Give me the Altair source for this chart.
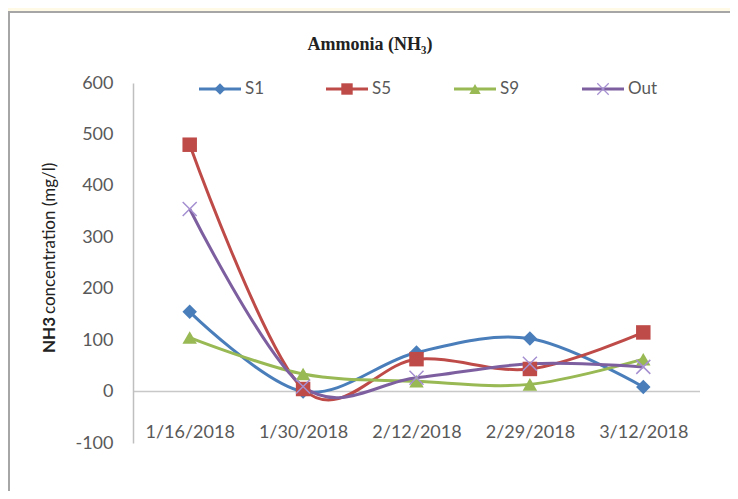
import altair as alt
import pandas as pd

# ---- data ----
dates = ["1/16/2018", "1/30/2018", "2/12/2018", "2/29/2018", "3/12/2018"]
series = ["S1", "S5", "S9", "Out"]
S1 = [155, 0, 76, 103, 9]
S5 = [480, 5, 63, 44, 115]
S9 = [105, 34, 20, 14, 63]
OUT = [355, 10, 27, 54, 48]
y_ticks = [-100, 0, 100, 200, 300, 400, 500, 600]

# ---- style ----
colors = ["#4A7EBB", "#BE4B48", "#98B954", "#7D5FA0"]
shapes = ["diamond", "square", "triangle-up"]
CROSS = "M-1,-1L1,1M-1,1L1,-1"
W, H = 567, 360
FONT = "Lato"
legend_x = [87, 214, 342, 470]

values = {"S1": S1, "S5": S5, "S9": S9, "Out": OUT}
rows = []
for s in series:
    for d, v in zip(dates, values[s]):
        rows.append({"date": d, "series": s, "value": v})
df = pd.DataFrame(rows)

leg = pd.DataFrame({"series": series, "lx": legend_x})
leg["tx"] = leg["lx"] + 25

one = pd.DataFrame({"a": [0]})

color = alt.Color("series:N", scale=alt.Scale(domain=series, range=colors), legend=None)
x = alt.X("date:O", sort=dates, scale=alt.Scale(domain=dates, padding=0.5),
          axis=alt.Axis(title=None, domain=False, ticks=False, labelAngle=0,
                        labelFont=FONT, labelFontSize=18, labelColor="#595959",
                        offset=-22, labelPadding=2, zindex=1))
y = alt.Y("value:Q", scale=alt.Scale(domain=[-100, 600], nice=False, zero=False),
          axis=alt.Axis(title=None, values=y_ticks, grid=False, ticks=False,
                        domainColor="#BFBFBF", domainWidth=1.5,
                        labelExpr="'' + datum.value",
                        labelFont=FONT, labelFontSize=18, labelColor="#595959",
                        labelPadding=20, zindex=1))

frame = alt.Chart(one).mark_rect(fill="white", stroke="#A6A6A6", strokeWidth=2).encode(
    x=alt.value(-124), x2=alt.value(700), y=alt.value(-71), y2=alt.value(520))

zero = alt.Chart(one).mark_rule(color="#C8C8C8", strokeWidth=1.5).encode(
    y=alt.datum(0), x=alt.value(0), x2=alt.value(W))

lines = alt.Chart(df).mark_line(interpolate="cardinal", strokeWidth=3).encode(
    x=x, y=y, color=color, detail="series:N")

pts = alt.Chart(df).transform_filter(alt.datum.series != "Out").mark_point(
    filled=True, opacity=1, size=210).encode(
    x=x, y=y, color=color,
    shape=alt.Shape("series:N", scale=alt.Scale(domain=series[:3], range=shapes), legend=None))

cross = alt.Chart(df).transform_filter(alt.datum.series == "Out").mark_point(
    shape=CROSS, filled=False, strokeWidth=1.5, size=196, opacity=1).encode(
    x=x, y=y, color=alt.value("#A58FD0"))

data_layer = alt.layer(lines, pts, cross)

# legend
leg_line = alt.Chart(leg).mark_point(shape="stroke", size=1764, strokeWidth=3, opacity=1,
                                     filled=False).encode(
    x=alt.X("lx:Q", scale=None, axis=None), y=alt.value(6), color=color)
leg_pts = alt.Chart(leg).transform_filter(alt.datum.series != "Out").mark_point(
    filled=True, opacity=1, size=130).encode(
    x=alt.X("lx:Q", scale=None, axis=None), y=alt.value(6), color=color,
    shape=alt.Shape("series:N", scale=alt.Scale(domain=series[:3], range=shapes), legend=None))
leg_cross = alt.Chart(leg).transform_filter(alt.datum.series == "Out").mark_point(
    shape=CROSS, filled=False, strokeWidth=1.2, size=130, opacity=1).encode(
    x=alt.X("lx:Q", scale=None, axis=None), y=alt.value(6), color=alt.value("#A58FD0"))
leg_text = alt.Chart(leg).mark_text(align="left", baseline="middle", font=FONT,
                                    fontSize=17, color="#595959").encode(
    x=alt.X("tx:Q", scale=None, axis=None), y=alt.value(6), text="series:N")

title = alt.Chart(one).mark_text(text="Ammonia (NH₃)", font="Liberation Serif",
                                 fontWeight="bold", fontSize=18, color="#222222",
                                 align="center", baseline="middle").encode(
    x=alt.value(237), y=alt.value(-38))

ytitle1 = alt.Chart(one).mark_text(text="NH3", font=FONT, fontWeight="bold", fontSize=17,
                                   color="#222222", angle=270, align="left",
                                   baseline="middle").encode(
    x=alt.value(-83), y=alt.value(270))
ytitle2 = alt.Chart(one).mark_text(text="concentration (mg/l)", font=FONT, fontSize=17,
                                   color="#222222", angle=270, align="left",
                                   baseline="middle").encode(
    x=alt.value(-83), y=alt.value(231))

chart = alt.layer(frame, zero, data_layer, leg_line, leg_pts, leg_cross, leg_text,
                  title, ytitle1, ytitle2).resolve_scale(
    x="independent", shape="independent").properties(
    width=W, height=H,
    autosize=alt.AutoSizeParams(type="none"),
    padding={"left": 125, "top": 75, "right": 30, "bottom": 48},
    background="#FFFAE6",
).configure_view(stroke=None)

chart.save("out.html", embed_options={"renderer": "svg", "actions": False})
